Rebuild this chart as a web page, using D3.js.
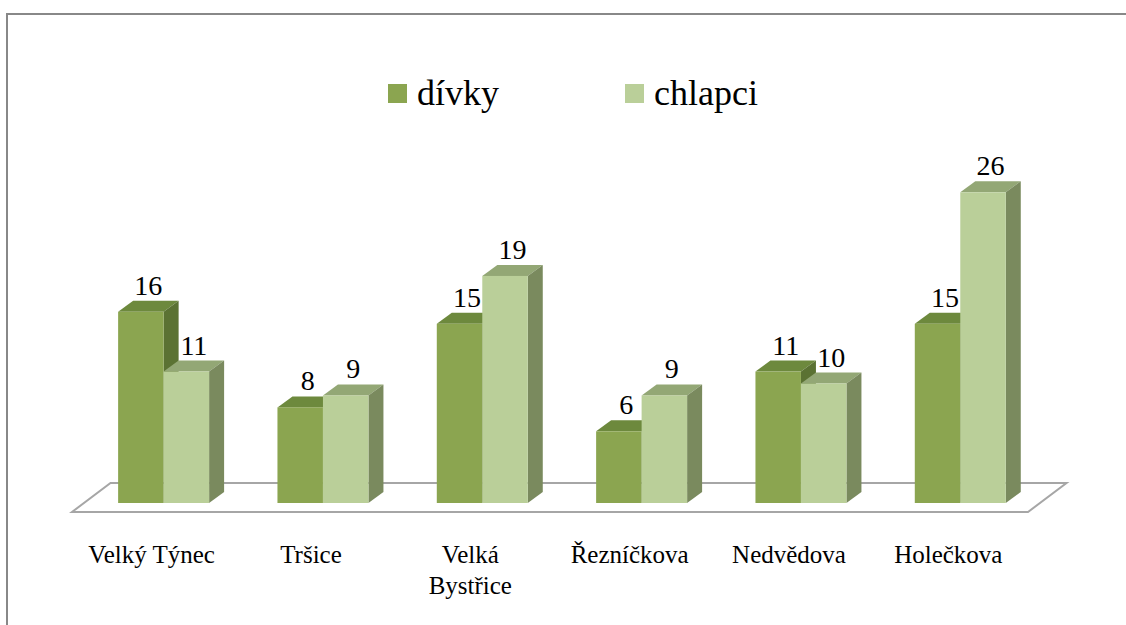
<!DOCTYPE html>
<html>
<head>
<meta charset="utf-8">
<script src="https://cdn.jsdelivr.net/npm/d3@7"></script>
<style>
  html, body { margin: 0; padding: 0; background: #ffffff; overflow: hidden; }
  svg { display: block; }
</style>
</head>
<body>
<script>
// Data
var categories = ["Velký Týnec", "Tršice", "Velká Bystřice", "Řezníčkova", "Nedvědova", "Holečkova"];
var seriesNames = ["dívky", "chlapci"];
var divky = [16, 8, 15, 6, 11, 15];
var chlapci = [11, 9, 19, 9, 10, 26];

var W = 1126, H = 625;
var FONT = "Liberation Serif";

// floor and 3d depth
var floorLeft = 72, floorRight = 1028, floorFront = 512;
var floorDx = 38.5, floorDy = -29;
var baseShift = 9 / 29;
var depthDx = 15, depthDy = -11;

var colors = {
  "dívky":   {front: "#8ba550", top: "#6d893d", side: "#5b7233"},
  "chlapci": {front: "#bacf99", top: "#93a775", side: "#7a8a5e"}
};

var chart = d3.select("body").append("svg")
    .attr("width", W)
    .attr("height", H)
    .attr("font-family", FONT);

// frame, top and left edges only
chart.append("path")
    .attr("d", "M7," + H + "V14H" + W)
    .attr("fill", "none")
    .attr("stroke", "#888888")
    .attr("stroke-width", 2);

var x = d3.scaleBand()
    .domain(categories)
    .range([floorLeft, floorRight])
    .paddingInner(0.429)
    .paddingOuter(0.2145);

var xSub = d3.scaleBand()
    .domain(seriesNames)
    .range([0, x.bandwidth()]);

var baseY = floorFront + floorDy * baseShift;
var baseX = floorDx * baseShift;

var y = d3.scaleLinear()
    .domain([0, 26])
    .range([baseY, baseY - 26 * 11.95]);

// floor
chart.append("path")
    .attr("d", "M" + floorLeft + "," + floorFront +
               "L" + floorRight + "," + floorFront +
               "L" + (floorRight + floorDx) + "," + (floorFront + floorDy) +
               "L" + (floorLeft + floorDx) + "," + (floorFront + floorDy) + "Z")
    .attr("fill", "#ffffff")
    .attr("stroke", "#a6a6a6")
    .attr("stroke-width", 2);

var bars = [];
categories.forEach((c, i) => {
  bars.push({cat: c, key: "dívky", value: divky[i]});
  bars.push({cat: c, key: "chlapci", value: chlapci[i]});
});

var barG = chart.append("g");

bars.forEach(d => {
  var x0 = x(d.cat) + xSub(d.key) + baseX;
  var x1 = x0 + xSub.bandwidth();
  var yTop = y(d.value), yBot = y(0);
  var c = colors[d.key];
  var g = barG.append("g");

  g.append("path")   // top
      .attr("d", "M" + x0 + "," + yTop + "L" + x1 + "," + yTop +
                 "L" + (x1 + depthDx) + "," + (yTop + depthDy) +
                 "L" + (x0 + depthDx) + "," + (yTop + depthDy) + "Z")
      .attr("fill", c.top);
  g.append("path")   // side
      .attr("d", "M" + x1 + "," + yTop + "L" + (x1 + depthDx) + "," + (yTop + depthDy) +
                 "L" + (x1 + depthDx) + "," + (yBot + depthDy) +
                 "L" + x1 + "," + yBot + "Z")
      .attr("fill", c.side);
  g.append("rect")   // front
      .attr("x", x0)
      .attr("y", yTop)
      .attr("width", xSub.bandwidth())
      .attr("height", yBot - yTop)
      .attr("fill", c.front);
});

// value labels
chart.append("g").selectAll("text")
  .data(bars)
  .enter().append("text")
    .attr("x", d => x(d.cat) + xSub(d.key) + baseX + xSub.bandwidth() / 2 + depthDx / 2)
    .attr("y", d => y(d.value) + depthDy - 6)
    .attr("text-anchor", "middle")
    .attr("font-family", FONT)
    .attr("font-size", 28)
    .attr("fill", "#000")
    .text(d => d.value);

// category labels
var catLines = {"Velká Bystřice": ["Velká", "Bystřice"]};
var catG = chart.append("g");
categories.forEach(c => {
  var lines = catLines[c] || [c];
  lines.forEach((l, i) => {
    catG.append("text")
        .attr("x", x(c) + x.bandwidth() / 2)
        .attr("y", 563 + i * 31)
        .attr("text-anchor", "middle")
        .attr("font-family", FONT)
        .attr("font-size", 25)
        .attr("fill", "#000")
        .text(l);
  });
});

// legend
var legendX = [388, 625];
var legend = chart.append("g");
seriesNames.forEach((s, i) => {
  legend.append("rect")
      .attr("x", legendX[i])
      .attr("y", 84)
      .attr("width", 19)
      .attr("height", 19)
      .attr("fill", colors[s].front);
  legend.append("text")
      .attr("x", legendX[i] + 29)
      .attr("y", 105)
      .attr("font-family", FONT)
      .attr("font-size", 36)
      .attr("fill", "#000")
      .text(s);
});
</script>
</body>
</html>
